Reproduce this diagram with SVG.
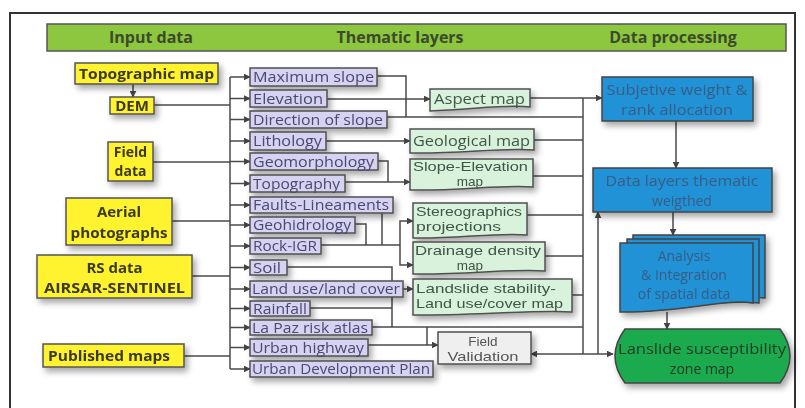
<svg xmlns="http://www.w3.org/2000/svg" width="805" height="408" viewBox="0 0 805 408">
<defs>
<filter id="sh" x="-20%" y="-30%" width="150%" height="180%">
<feDropShadow dx="3" dy="4" stdDeviation="3" flood-color="#000" flood-opacity="0.35"/>
</filter>
<marker id="ah" viewBox="0 0 10 10" refX="9" refY="5" markerWidth="7" markerHeight="7" orient="auto-start-reverse" markerUnits="userSpaceOnUse">
<path d="M0,0 L10,5 L0,10 Z" fill="#444"/>
</marker>
<style>
.fr{fill:#fff;stroke:#333;stroke-width:2}
.hd{fill:#8dc63f;stroke:#555;stroke-width:1.5}
.ht{font-family:"Open Sans",sans-serif;font-weight:bold;font-size:16px;fill:#3c4a2c;text-anchor:middle}
.y{fill:#fff22e;stroke:#555;stroke-width:1.5}
.yt{font-family:"Open Sans",sans-serif;font-weight:bold;font-size:15px;fill:#3b3a1c;text-anchor:middle}
.yt2{font-family:"Open Sans",sans-serif;font-weight:bold;font-size:14px;fill:#3b3a1c;text-anchor:middle}
.p{fill:#d6d2f2;stroke:#505050;stroke-width:1.5}
.pt{font-family:"Open Sans",sans-serif;font-size:15px;fill:#4b4870}
.m{fill:#d9f2dc;stroke:#505050;stroke-width:1.5}
.mt{font-family:"Open Sans",sans-serif;font-size:14px;fill:#3e5748}
.mt2{font-family:"Liberation Sans",Arial,sans-serif;font-size:13.5px;fill:#3e5748}
.g{fill:#efefef;stroke:#505050;stroke-width:1.5}
.gt{font-family:"Liberation Sans",Arial,sans-serif;font-size:13.5px;fill:#555;text-anchor:middle}
.b{fill:#2092d6;stroke:#444;stroke-width:1.5}
.bt{font-family:"Open Sans",sans-serif;font-size:14px;fill:#3a5c85;text-anchor:middle}
.gr{fill:#1faa4f;stroke:#444;stroke-width:1.5}
.grt{font-family:"Open Sans",sans-serif;font-size:14px;fill:#1d3a22;text-anchor:middle}
.c path{fill:none;stroke:#4a4a4a;stroke-width:1.5}
.a{marker-end:url(#ah)}
.a2{marker-start:url(#ah);marker-end:url(#ah)}
</style>
</defs>
<rect x="0" y="0" width="805" height="408" fill="#fff"/>
<rect class="fr" x="10" y="13" width="785" height="402"/>

<g id="header">
<rect class="hd" x="47" y="24" width="739" height="27"/>
<text class="ht" x="151" y="43">Input data</text>
<text class="ht" x="400" y="43">Thematic layers</text>
<text class="ht" x="673" y="43">Data processing</text>
</g>

<g class="c" id="connectors">
<path class="a" d="M133,84 V97"/>
<path d="M154,105 H230"/>
<path d="M153,162 H230"/>
<path d="M172,221 H230"/>
<path d="M192,276 H230"/>
<path d="M184,356 H230"/>
<path d="M230,77 V369"/>
<path class="a" d="M230,77 H250"/>
<path class="a" d="M230,98.5 H250"/>
<path class="a" d="M230,119.5 H250"/>
<path class="a" d="M230,141 H250"/>
<path class="a" d="M230,161.5 H250"/>
<path class="a" d="M230,183.5 H250"/>
<path class="a" d="M230,205 H250"/>
<path class="a" d="M230,225 H250"/>
<path class="a" d="M230,246 H250"/>
<path class="a" d="M230,267.5 H250"/>
<path class="a" d="M230,289 H250"/>
<path class="a" d="M230,308.5 H250"/>
<path class="a" d="M230,327.5 H250"/>
<path class="a" d="M230,347.5 H250"/>
<path class="a" d="M230,369 H250"/>
<path d="M377,76 H406 V117"/>
<path class="a" d="M327,99 H430"/>
<path d="M387,117 H583"/>
<path class="a" d="M326,141 H410"/>
<path d="M378,161 H388 V182"/>
<path class="a" d="M345,182 H410"/>
<path d="M382,213 V245"/>
<path d="M355,224 H366 V245"/>
<path d="M321,245 H400"/>
<path class="a" d="M400,245 V221 H413"/>
<path class="a" d="M400,245 V265 H413"/>
<path d="M287,267 H392 V327"/>
<path class="a" d="M403,289 H413"/>
<path d="M310,308 H392"/>
<path d="M372,327 H583"/>
<path d="M427,327 V345"/>
<path class="a" d="M368,345 H438"/>
<path class="a" d="M530,98 H602"/>
<path d="M534,140 H583"/>
<path d="M533,176 H583"/>
<path d="M527,215 H583"/>
<path d="M545,256 H583"/>
<path d="M572,295 H583"/>
<path d="M583,98 V354"/>
<path class="a2" d="M531,354 H613"/>
<path class="a" d="M598,354 V212"/>
<path class="a" d="M676,121 V168"/>
<path class="a" d="M673,212 V235"/>
<path class="a" d="M667,312 V329"/>
</g>

<g id="topographic-map" filter="url(#sh)"><rect class="y" x="75" y="63" width="143" height="21"/><text class="yt" x="146.5" y="79" textLength="135" lengthAdjust="spacingAndGlyphs">Topographic map</text></g>
<g id="dem" filter="url(#sh)"><rect class="y" x="110" y="97" width="44" height="17"/><text class="yt" x="132" y="111">DEM</text></g>
<g id="field-data" filter="url(#sh)"><rect class="y" x="108" y="142" width="45" height="39"/><text class="yt2" x="130.5" y="156.5">Field</text><text class="yt2" x="130.5" y="176">data</text></g>
<g id="aerial-photographs" filter="url(#sh)"><rect class="y" x="66" y="198" width="106" height="47"/><text class="yt" x="119" y="217">Aerial</text><text class="yt" x="119" y="238" textLength="97" lengthAdjust="spacingAndGlyphs">photographs</text></g>
<g id="rs-data" filter="url(#sh)"><rect class="y" x="37" y="255" width="155" height="43"/><text class="yt" x="114.5" y="273">RS data</text><text class="yt" x="114.5" y="293" textLength="141" lengthAdjust="spacingAndGlyphs">AIRSAR-SENTINEL</text></g>
<g id="published-maps" filter="url(#sh)"><rect class="y" x="43" y="344" width="141" height="23"/><text class="yt" x="109" y="361" textLength="122" lengthAdjust="spacingAndGlyphs">Published maps</text></g>

<g id="maximum-slope" filter="url(#sh)"><rect class="p" x="250" y="68" width="127" height="18"/><text class="pt" x="253" y="82" textLength="121" lengthAdjust="spacingAndGlyphs">Maximum slope</text></g>
<g id="elevation" filter="url(#sh)"><rect class="p" x="250" y="90" width="77" height="17"/><text class="pt" x="253" y="104" textLength="70" lengthAdjust="spacingAndGlyphs">Elevation</text></g>
<g id="direction-of-slope" filter="url(#sh)"><rect class="p" x="250" y="111" width="137" height="17"/><text class="pt" x="253" y="125" textLength="130" lengthAdjust="spacingAndGlyphs">Direction of slope</text></g>
<g id="lithology" filter="url(#sh)"><rect class="p" x="250" y="132" width="76" height="18"/><text class="pt" x="253" y="146" textLength="69" lengthAdjust="spacingAndGlyphs">Lithology</text></g>
<g id="geomorphology" filter="url(#sh)"><rect class="p" x="250" y="153" width="128" height="17"/><text class="pt" x="253" y="167" textLength="121" lengthAdjust="spacingAndGlyphs">Geomorphology</text></g>
<g id="topography" filter="url(#sh)"><rect class="p" x="250" y="175" width="95" height="17"/><text class="pt" x="253" y="189" textLength="87" lengthAdjust="spacingAndGlyphs">Topography</text></g>
<g id="faults-lineaments" filter="url(#sh)"><rect class="p" x="250" y="197" width="143" height="16"/><text class="pt" x="253" y="210" textLength="136" lengthAdjust="spacingAndGlyphs">Faults-Lineaments</text></g>
<g id="geohidrology" filter="url(#sh)"><rect class="p" x="250" y="217" width="105" height="16"/><text class="pt" x="253" y="230" textLength="98" lengthAdjust="spacingAndGlyphs">Geohidrology</text></g>
<g id="rock-igr" filter="url(#sh)"><rect class="p" x="250" y="238" width="71" height="16"/><text class="pt" x="253" y="251" textLength="64" lengthAdjust="spacingAndGlyphs">Rock-IGR</text></g>
<g id="soil" filter="url(#sh)"><rect class="p" x="250" y="260" width="37" height="15"/><text class="pt" x="253" y="273" textLength="28" lengthAdjust="spacingAndGlyphs">Soil</text></g>
<g id="land-use" filter="url(#sh)"><rect class="p" x="250" y="281" width="153" height="16"/><text class="pt" x="252" y="294" textLength="148" lengthAdjust="spacingAndGlyphs">Land use/land cover</text></g>
<g id="rainfall" filter="url(#sh)"><rect class="p" x="250" y="301" width="60" height="15"/><text class="pt" x="253" y="314" textLength="54" lengthAdjust="spacingAndGlyphs">Rainfall</text></g>
<g id="la-paz-risk-atlas" filter="url(#sh)"><rect class="p" x="250" y="320" width="122" height="15"/><text class="pt" x="252" y="333" textLength="116" lengthAdjust="spacingAndGlyphs">La Paz risk atlas</text></g>
<g id="urban-highway" filter="url(#sh)"><rect class="p" x="250" y="339" width="118" height="17"/><text class="pt" x="252" y="353" textLength="112" lengthAdjust="spacingAndGlyphs">Urban highway</text></g>
<g id="urban-development-plan" filter="url(#sh)"><rect class="p" x="250" y="361" width="183" height="16"/><text class="pt" x="252" y="374" textLength="178" lengthAdjust="spacingAndGlyphs">Urban Development Plan</text></g>

<g id="aspect-map" filter="url(#sh)"><path class="m" d="M430,89 H530 V107 C505,104 470,110 430,111 Z"/><text class="mt" x="434" y="104" textLength="91" lengthAdjust="spacingAndGlyphs">Aspect map</text></g>
<g id="geological-map" filter="url(#sh)"><path class="m" d="M410,129 H534 V150 C505,147 460,154 410,153 Z"/><text class="mt" x="413" y="146" textLength="117" lengthAdjust="spacingAndGlyphs">Geological map</text></g>
<g id="slope-elevation-map" filter="url(#sh)"><path class="m" d="M410,159 H533 V187 C505,184 460,191 410,190 Z"/><text class="mt2" x="413" y="171" textLength="115" lengthAdjust="spacingAndGlyphs">Slope-Elevation</text><text class="mt2" x="470" y="186" text-anchor="middle">map</text></g>
<g id="stereographics-projections" filter="url(#sh)"><path class="m" d="M413,203 H527 V235 C500,232 455,239 413,238 Z"/><text class="mt2" x="416" y="216" textLength="106" lengthAdjust="spacingAndGlyphs">Stereographics</text><text class="mt2" x="416" y="231" textLength="85" lengthAdjust="spacingAndGlyphs">projections</text></g>
<g id="drainage-density-map" filter="url(#sh)"><path class="m" d="M413,242 H545 V271 C515,268 465,275 413,274 Z"/><text class="mt2" x="415" y="255" textLength="126" lengthAdjust="spacingAndGlyphs">Drainage density</text><text class="mt2" x="470" y="270" text-anchor="middle">map</text></g>
<g id="landslide-stability-map" filter="url(#sh)"><path class="m" d="M413,279 H572 V312 C540,309 480,316 413,315 Z"/><text class="mt2" x="416" y="293" textLength="140" lengthAdjust="spacingAndGlyphs">Landslide stability-</text><text class="mt2" x="416" y="308" textLength="147" lengthAdjust="spacingAndGlyphs">Land use/cover map</text></g>
<g id="field-validation" filter="url(#sh)"><rect class="g" x="438" y="332" width="93" height="32"/><text class="gt" x="483" y="346">Field</text><text class="gt" x="483" y="361" textLength="71" lengthAdjust="spacingAndGlyphs">Validation</text></g>

<g id="subjective-weight" filter="url(#sh)"><rect class="b" x="602" y="77" width="151" height="44"/><text class="bt" x="677" y="95" textLength="141" lengthAdjust="spacingAndGlyphs">Subjetive weight &amp;</text><text class="bt" x="677" y="115" textLength="112" lengthAdjust="spacingAndGlyphs">rank allocation</text></g>
<g id="data-layers-weighted" filter="url(#sh)"><rect class="b" x="593" y="168" width="179" height="44"/><text class="bt" x="682" y="186" textLength="153" lengthAdjust="spacingAndGlyphs">Data layers thematic</text><text class="bt" x="682" y="206">weigthed</text></g>
<g id="analysis-integration" filter="url(#sh)">
<path class="b" d="M633,235 H765 V298 C740,295 700,300 633,300 Z"/>
<path class="b" d="M627,239 H759 V303 C734,300 694,306 627,306 Z"/>
<path class="b" d="M620,243 H753 V303 C725,298 680,313 620,312 Z"/>
<text class="bt" x="684" y="261">Analysis</text>
<text class="bt" x="684" y="280">&amp; Integration</text>
<text class="bt" x="684" y="299">of spatial data</text>
</g>
<g id="landslide-susceptibility" filter="url(#sh)"><path class="gr" d="M625,329 H780 Q800,356 780,383 H625 Q605,356 625,329 Z"/><text class="grt" x="702" y="354" textLength="168" lengthAdjust="spacingAndGlyphs">Lanslide susceptibility</text><text class="grt" x="702" y="374">zone map</text></g>
</svg>
